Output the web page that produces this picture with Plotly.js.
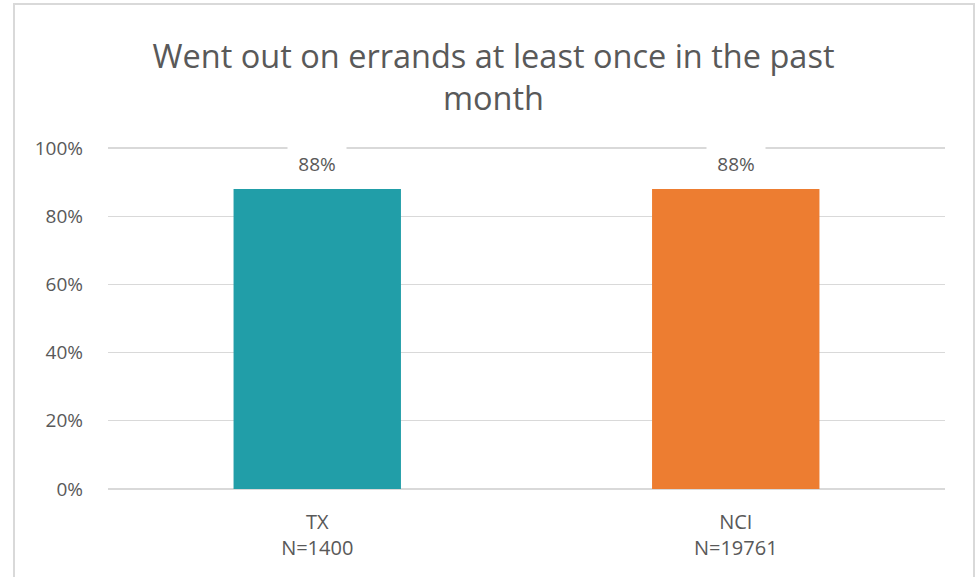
<!DOCTYPE html>
<html>
<head>
<meta charset="utf-8">
<script src="https://cdn.plot.ly/plotly-3.0.1.min.js"></script>
<style>
  html, body { margin: 0; padding: 0; background: #ffffff; }
  #wrap { position: relative; width: 980px; height: 577px; overflow: hidden; }
  #chart { width: 980px; height: 577px; }
  #frame { position: absolute; left: 13px; top: 3px; width: 958px; height: 600px;
           border: 2px solid #d9d9d9; pointer-events: none; }
</style>
</head>
<body>
<div id="wrap">
  <div id="chart"></div>
  <div id="frame"></div>
</div>
<script>
// ---- data ----
const categories = ["TX", "NCI"];
const sampleSizes = ["N=1400", "N=19761"];
const values = [0.88, 0.88];
const barColors = ["#219ea8", "#ed7d31"];
const yTickVals = [0, 0.2, 0.4, 0.6, 0.8, 1.0];
const yTickText = ["0%", "20%", "40%", "60%", "80%", "100%"];
const chartTitle = "Went out on errands at least once in the past<br>month";

const tickLabels = categories.map((c, i) => c + "<br>" + sampleSizes[i]);
const textColor = "#595959";
const font = "'Open Sans', 'Liberation Sans', sans-serif";

const trace = {
  type: "bar",
  x: categories,
  y: values,
  marker: { color: barColors, line: { width: 0 } },
  hoverinfo: "skip"
};

const labels = categories.map((c, i) => ({
  x: c, y: values[i], xref: "x", yref: "y",
  text: Math.round(values[i] * 100) + "%",
  showarrow: false,
  yanchor: "bottom",
  yshift: 5,
  bgcolor: "#ffffff",
  borderpad: 6,
  width: 46,
  font: { family: font, size: 19, color: textColor }
}));

const layout = {
  width: 980,
  height: 577,
  margin: { l: 108, r: 35, t: 147, b: 88 },
  paper_bgcolor: "#ffffff",
  plot_bgcolor: "#ffffff",
  showlegend: false,
  bargap: 0.6,
  title: {
    text: chartTitle,
    font: { family: font, size: 32.5, color: textColor },
    x: 493.5 / 980, xref: "container", xanchor: "center",
    y: 1 - 68 / 577, yref: "container", yanchor: "middle"
  },
  xaxis: {
    type: "category",
    range: [-0.5, 1.5],
    tickmode: "array",
    tickvals: categories,
    ticktext: tickLabels,
    showgrid: false,
    showline: false,
    ticks: "",
    ticklen: 0,
    ticklabelstandoff: 19,
    tickfont: { family: font, size: 20, color: textColor },
    fixedrange: true
  },
  yaxis: {
    range: [0, 1.003],
    tickmode: "array",
    tickvals: yTickVals,
    ticktext: yTickText,
    showgrid: true,
    gridcolor: "#d9d9d9",
    gridwidth: 1.3,
    zeroline: true,
    zerolinecolor: "#d9d9d9",
    zerolinewidth: 1.3,
    showline: false,
    ticks: "",
    ticklabelstandoff: 24,
    tickfont: { family: font, size: 19, color: textColor },
    fixedrange: true
  },
  annotations: labels
};

Plotly.newPlot("chart", [trace], layout, { displayModeBar: false, staticPlot: true });
</script>
</body>
</html>
